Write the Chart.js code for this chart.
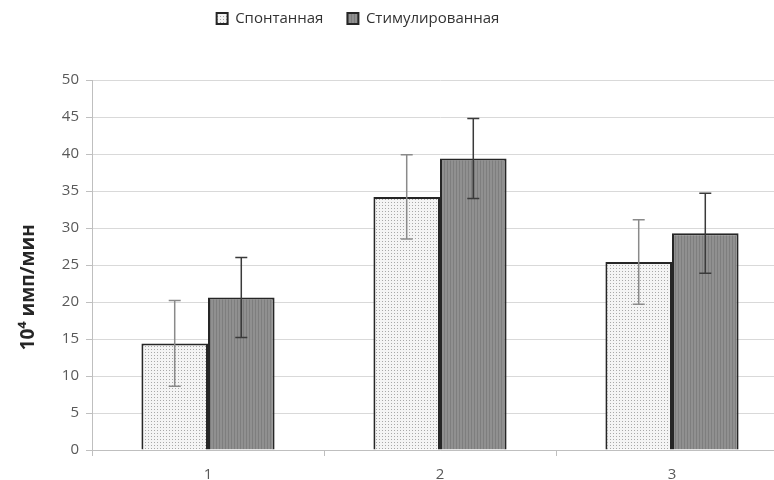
<!DOCTYPE html>
<html>
<head>
<meta charset="utf-8">
<script src="https://cdn.jsdelivr.net/npm/chart.js@4/dist/chart.umd.min.js"></script>
<style>
  html, body { margin: 0; padding: 0; background: #fff; overflow: hidden; }
  #wrap { width: 790px; height: 480px; }
</style>
</head>
<body>
<div id="wrap"><canvas id="c"></canvas></div>
<script>
// данные
let categories = ['1', '2', '3'];
let seriesNames = ['Спонтанная', 'Стимулированная'];
let spontVals = [14.4, 34.2, 25.4];
let spontErr = [5.8, 5.7, 5.7];
let stimVals = [20.6, 39.4, 29.3];
let stimErr = [5.4, 5.4, 5.4];
let yTicks = [0, 5, 10, 15, 20, 25, 30, 35, 40, 45, 50];

// точечная заливка
function dotPattern() {
    let c = document.createElement('canvas');
    c.width = 3; c.height = 3;
    let g = c.getContext('2d');
    g.fillStyle = '#f4f4f4';
    g.fillRect(0, 0, 3, 3);
    g.fillStyle = '#a8a8a8';
    g.fillRect(1, 1, 1, 1);
    return g.createPattern(c, 'repeat');
}
// вертикальная штриховка
function stripePattern() {
    let c = document.createElement('canvas');
    c.width = 3; c.height = 1;
    let g = c.getContext('2d');
    g.fillStyle = '#909090';
    g.fillRect(0, 0, 3, 1);
    g.fillStyle = '#7e7e7e';
    g.fillRect(0, 0, 1, 1);
    return g.createPattern(c, 'repeat');
}

// планки погрешностей
let errorBars = {
    id: 'errorBars',
    afterDatasetsDraw(chart) {
        let ctx = chart.ctx;
        let y = chart.scales.y;
        chart.data.datasets.forEach((ds, di) => {
            let meta = chart.getDatasetMeta(di);
            meta.data.forEach((bar, i) => {
                let v = ds.data[i], e = ds.errors[i];
                let top = y.getPixelForValue(v + e);
                let bot = y.getPixelForValue(v - e);
                ctx.save();
                ctx.strokeStyle = ds.errorColor;
                ctx.lineWidth = 1.5;
                ctx.beginPath();
                ctx.moveTo(bar.x, top); ctx.lineTo(bar.x, bot);
                ctx.moveTo(bar.x - 6, top); ctx.lineTo(bar.x + 6, top);
                ctx.moveTo(bar.x - 6, bot); ctx.lineTo(bar.x + 6, bot);
                ctx.stroke();
                ctx.restore();
            });
        });
    }
};

// сдвиг легенды влево и вверх
let legendShift = {
    id: 'legendShift',
    beforeDraw(chart) {
        if (chart.legend) {
            chart.legend.right = chart.width - 74;
            chart.legend.top = -13;
        }
    }
};

let config = {
    type: 'bar',
    data: {
        labels: categories,
        datasets: [{
            label: seriesNames[0],
            data: spontVals,
            errors: spontErr,
            errorColor: '#8a8a8a',
            backgroundColor: dotPattern(),
            borderColor: '#262626',
            borderWidth: 2,
            borderSkipped: 'bottom'
        }, {
            label: seriesNames[1],
            data: stimVals,
            errors: stimErr,
            errorColor: '#3a3a3a',
            backgroundColor: stripePattern(),
            borderColor: '#262626',
            borderWidth: 2,
            borderSkipped: 'bottom'
        }]
    },
    options: {
        responsive: true,
        maintainAspectRatio: false,
        animation: false,
        categoryPercentage: 0.574,
        barPercentage: 1.0,
        layout: { padding: { left: 0, right: 2, top: 5, bottom: 0 } },
        plugins: {
            tooltip: { enabled: false },
            legend: {
                position: 'top',
                labels: {
                    boxWidth: 11,
                    boxHeight: 11,
                    padding: 24,
                    color: '#333',
                    font: { family: 'Open Sans', size: 15 }
                }
            },
            title: {
                display: true,
                text: '',
                weight: 500,
                font: { size: 1, lineHeight: 1 },
                padding: { top: 0, bottom: 25 }
            }
        },
        scales: {
            x: {
                offset: true,
                afterFit(scale) { scale.height = 30; },
                grid: {
                    offset: true,
                    drawOnChartArea: false,
                    drawTicks: true,
                    tickLength: 6,
                    color: '#bfbfbf'
                },
                border: { color: '#bfbfbf' },
                ticks: {
                    color: '#595959',
                    padding: 10,
                    font: { family: 'Open Sans', size: 15 }
                }
            },
            y: {
                min: 0,
                max: 50,
                afterFit(scale) { scale.width = 92; },
                afterBuildTicks(scale) { scale.ticks = yTicks.map(v => ({ value: v })); },
                grid: {
                    color: '#d9d9d9',
                    tickLength: 6,
                    tickColor: '#bfbfbf'
                },
                border: { color: '#bfbfbf' },
                ticks: {
                    color: '#595959',
                    padding: 7,
                    font: { family: 'Open Sans', size: 15 }
                },
                title: {
                    display: true,
                    text: '10⁴ имп/мин' + '\u00a0'.repeat(9),
                    color: '#262626',
                    padding: { top: 17, bottom: 0 },
                    font: { family: 'Open Sans', size: 19, weight: 'bold' }
                }
            }
        }
    },
    plugins: [errorBars, legendShift]
};

new Chart(document.getElementById('c'), config);
</script>
</body>
</html>
